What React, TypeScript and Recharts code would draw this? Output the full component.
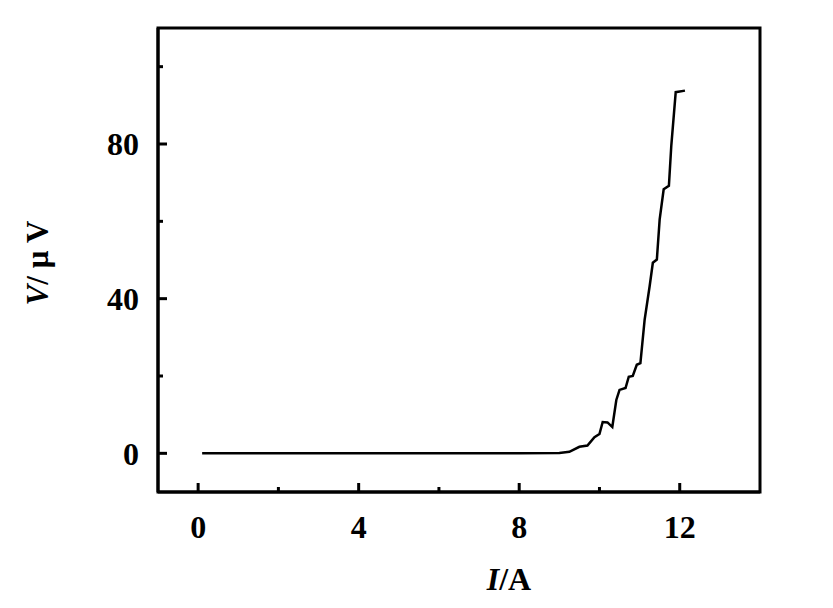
import React from "react";
import { LineChart, Line, XAxis, YAxis, Label, ReferenceArea } from "recharts";

const currents = [0.1, 2, 4, 6, 8, 9.0, 9.25, 9.5, 9.7, 9.875, 10.0, 10.08, 10.2, 10.32, 10.42, 10.5, 10.65, 10.73, 10.83, 10.93, 11.02, 11.125, 11.25, 11.33, 11.43, 11.5, 11.6, 11.73, 11.79, 11.9, 12.13];
const voltages = [0, 0, 0, 0, 0, 0.1, 0.4, 1.7, 2.0, 4.2, 5.0, 8.1, 8.0, 6.8, 13.8, 16.4, 16.9, 19.8, 20, 22.9, 23.3, 34.5, 43.2, 49.3, 50.1, 60.5, 68.3, 69.2, 79.6, 93.4, 93.8];
const xDomain = [-1, 14];
const yDomain = [-10, 110];
const xTicks = [0, 2, 4, 6, 8, 10, 12];
const xLabelled = [0, 4, 8, 12];
const yTicks = [0, 20, 40, 60, 80, 100];
const yLabelled = [0, 40, 80];

const data = currents.map((I, i) => ({ I, V: voltages[i] }));

const FONT = "'Liberation Serif', 'DejaVu Serif', serif";
const X_MARGIN = 23;
const Y_MARGIN = 19;

const XTick = (props: any) => {
  const { x, y, payload } = props;
  const v = payload.value;
  const major = xLabelled.includes(v);
  const axisY = y - X_MARGIN;
  return (
    <g>
      <line x1={x} x2={x} y1={axisY} y2={axisY - (major ? 9 : 5)} stroke="#000" strokeWidth={3} />
      {major && (
        <text x={x} y={y} dy="0.71em" textAnchor="middle" fontFamily={FONT} fontSize={32} fontWeight={700} fill="#000">
          {v}
        </text>
      )}
    </g>
  );
};

const YTick = (props: any) => {
  const { x, y, payload } = props;
  const v = payload.value;
  const major = yLabelled.includes(v);
  const axisX = x + Y_MARGIN;
  return (
    <g>
      <line x1={axisX} x2={axisX + (major ? 9 : 5)} y1={y} y2={y} stroke="#000" strokeWidth={3} />
      {major && (
        <text x={x} y={y} dy="0.355em" textAnchor="end" fontFamily={FONT} fontSize={32} fontWeight={700} fill="#000">
          {v}
        </text>
      )}
    </g>
  );
};

const XTitle = (props: any) => {
  const vb = props.viewBox || {};
  const cx = vb.x + vb.width / 2 + 50;
  return (
    <text x={cx} y={vb.y + 98} textAnchor="middle" fontFamily={FONT} fontSize={32} fontWeight={700} fill="#000">
      <tspan fontStyle="italic">I</tspan>
      <tspan>/A</tspan>
    </text>
  );
};

const YTitle = (props: any) => {
  const vb = props.viewBox || {};
  const cx = 48;
  const cy = vb.y + vb.height / 2 + 3;
  return (
    <text x={cx} y={cy} transform={`rotate(-90 ${cx} ${cy})`} textAnchor="middle" fontFamily={FONT} fontSize={31} fontWeight={700} fill="#000">
      <tspan fontStyle="italic">V</tspan>
      <tspan>/ μ V</tspan>
    </text>
  );
};

export default function App() {
  return (
    <div style={{ position: "absolute", left: 0, top: 0, width: 833, height: 608, background: "#fff" }}>
      <LineChart width={833} height={608} data={data} margin={{ top: 28, right: 73, left: 0, bottom: 56 }}>
        <XAxis
          dataKey="I"
          type="number"
          domain={xDomain}
          allowDataOverflow
          ticks={xTicks}
          interval={0}
          tickSize={0}
          tickMargin={X_MARGIN}
          height={60}
          axisLine={{ stroke: "#000", strokeWidth: 3 }}
          tickLine={false}
          tick={<XTick />}
        >
          <Label content={<XTitle />} />
        </XAxis>
        <YAxis
          type="number"
          domain={yDomain}
          allowDataOverflow
          ticks={yTicks}
          interval={0}
          tickSize={0}
          tickMargin={Y_MARGIN}
          width={158}
          axisLine={{ stroke: "#000", strokeWidth: 3 }}
          tickLine={false}
          tick={<YTick />}
        >
          <Label content={<YTitle />} />
        </YAxis>
        <ReferenceArea
          x1={xDomain[0]}
          x2={xDomain[1]}
          y1={yDomain[0]}
          y2={yDomain[1]}
          fill="none"
          fillOpacity={0}
          stroke="#000"
          strokeWidth={3}
          ifOverflow="visible"
        />
        <Line
          type="linear"
          dataKey="V"
          stroke="#000"
          strokeWidth={2.5}
          dot={false}
          isAnimationActive={false}
        />
      </LineChart>
    </div>
  );
}
